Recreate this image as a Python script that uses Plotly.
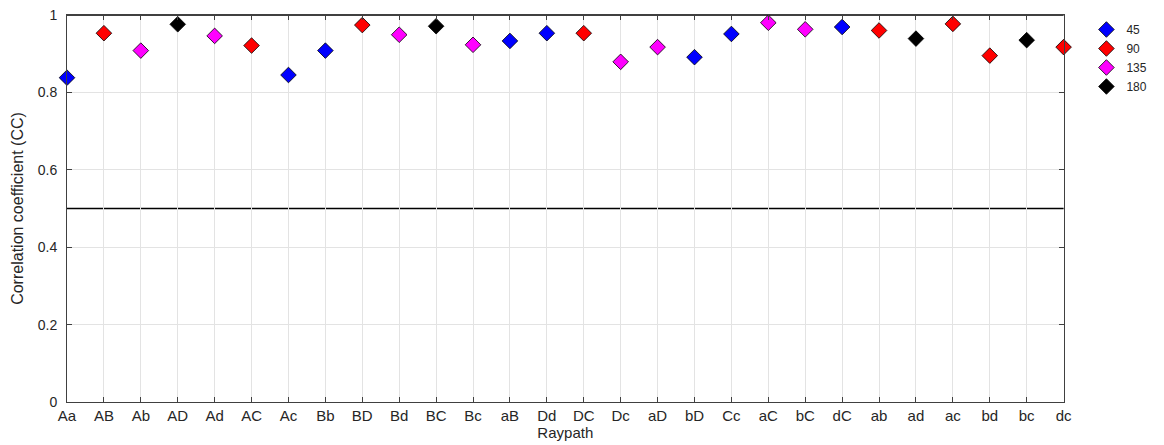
import plotly.graph_objects as go

raypaths = ["Aa", "AB", "Ab", "AD", "Ad", "AC", "Ac", "Bb", "BD", "Bd", "BC", "Bc", "aB", "Dd",
            "DC", "Dc", "aD", "bD", "Cc", "aC", "bC", "dC", "ab", "ad", "ac", "bd", "bc", "dc"]
cc_values = [0.838, 0.953, 0.908, 0.976, 0.946, 0.921, 0.845, 0.908, 0.974, 0.949, 0.971, 0.923,
             0.933, 0.953, 0.953, 0.879, 0.917, 0.891, 0.951, 0.980, 0.963, 0.969, 0.960, 0.939,
             0.977, 0.895, 0.935, 0.917]
angles = [45, 90, 135, 180, 135, 90, 45, 45, 90, 135, 180, 135, 45, 45,
          90, 135, 135, 45, 45, 135, 135, 45, 90, 180, 90, 90, 180, 90]
groups = [45, 90, 135, 180]
group_colors = {45: "#0000FF", 90: "#FF0000", 135: "#FF00FF", 180: "#000000"}
threshold = 0.5

W, H = 1164, 445
ML, MR, MT, MB = 67, 20, 15, 43
plot_right = 1072
paper_w = W - ML - MR
x_dom_end = (plot_right - ML) / paper_w
legend_x = (1095 - ML) / paper_w

fig = go.Figure()
for g in groups:
    xs = [r for r, a in zip(raypaths, angles) if a == g]
    ys = [v for v, a in zip(cc_values, angles) if a == g]
    fig.add_trace(go.Scatter(
        x=xs, y=ys, mode="markers", name=str(g), cliponaxis=False,
        marker=dict(symbol="diamond", size=12, color=group_colors[g],
                    line=dict(color="black", width=0.8)),
    ))

axis_col = "#404040"
fig.add_hline(y=threshold, line=dict(color="black", width=1.5), layer="below")
fig.add_hline(y=1, line=dict(color="black", width=1.5), layer="below")

fig.update_layout(
    width=W, height=H,
    margin=dict(l=ML, r=MR, t=MT, b=MB),
    paper_bgcolor="white", plot_bgcolor="white",
    font=dict(family="Liberation Sans, Arial, sans-serif", color="#262626", size=14),
    showlegend=True,
    legend=dict(x=legend_x, y=1.0, xanchor="left", yanchor="top",
                font=dict(size=12, color="#262626"), tracegroupgap=0,
                itemwidth=30, bgcolor="rgba(0,0,0,0)", borderwidth=0),
)
fig.update_xaxes(
    type="category", categoryorder="array", categoryarray=raypaths,
    range=[0, len(raypaths) - 1], automargin=False, domain=[0, x_dom_end],
    showline=True, linecolor=axis_col, linewidth=1, mirror="ticks",
    ticks="inside", ticklen=5, tickcolor=axis_col,
    showgrid=True, gridcolor="#E3E3E3", gridwidth=1,
    title=dict(text="Raypath", font=dict(size=15), standoff=3),
    tickfont=dict(size=15), zeroline=False,
)
fig.update_yaxes(
    range=[0, 1], dtick=0.2, tick0=0, automargin=False,
    showline=True, linecolor=axis_col, linewidth=1, mirror="ticks",
    ticks="inside", ticklen=5, tickcolor=axis_col, ticklabelstandoff=6,
    showgrid=True, gridcolor="#E3E3E3", gridwidth=1,
    title=dict(text="Correlation coefficient (CC)", font=dict(size=16), standoff=10),
    tickfont=dict(size=14), zeroline=False,
)

fig.write_html("out.html", config={"displayModeBar": False},
               post_script="document.body.style.margin='0';document.body.style.overflow='hidden';")
